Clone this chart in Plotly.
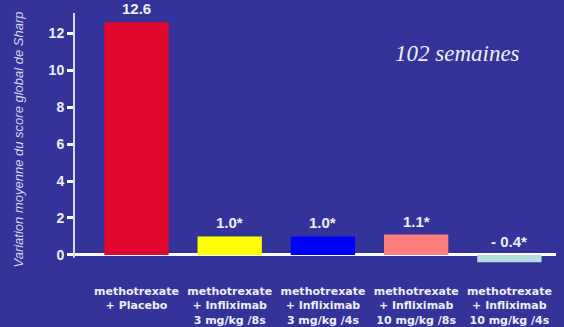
import plotly.graph_objects as go

# Treatment groups (x tick labels), mean change in total Sharp score at 102 weeks
categories = [
    "methotrexate<br>+ Placebo",
    "methotrexate<br>+ Infliximab<br>3 mg/kg /8s",
    "methotrexate<br>+ Infliximab<br>3 mg/kg /4s",
    "methotrexate<br>+ Infliximab<br>10 mg/kg /8s",
    "methotrexate<br>+ Infliximab<br>10 mg/kg /4s",
]
values = [12.6, 1.0, 1.0, 1.1, -0.4]
value_labels = ["12.6", "1.0*", "1.0*", "1.1*", "- 0.4*"]
bar_colors = ["#E0082E", "#FFFF00", "#0000FF", "#FF7F7F", "#B5DDE0"]
y_ticks = [0, 2, 4, 6, 8, 10, 12]

BG = "#333399"
LABEL = "#EEEEF6"
x_pos = list(range(len(categories)))

fig = go.Figure(
    go.Bar(
        x=x_pos,
        y=values,
        width=0.69,
        marker=dict(color=bar_colors, line=dict(width=0)),
        hoverinfo="skip",
        cliponaxis=False,
    )
)

# Value labels above each bar (above the zero line for negative bars)
for xi, v, lab in zip(x_pos, values, value_labels):
    fig.add_annotation(
        x=xi, y=max(v, 0), text=f"<b>{lab}</b>", showarrow=False,
        yanchor="bottom", yshift=3,
        font=dict(family="Arial, Liberation Sans", size=15, color=LABEL),
    )

fig.add_annotation(
    xref="paper", yref="paper", x=0.93, y=0.84, xanchor="right", yanchor="middle",
    text="<i>102 semaines</i>", showarrow=False,
    font=dict(family="Liberation Serif, Times New Roman, serif", size=23, color=LABEL),
)

# Vertical axis line
fig.add_shape(
    type="line", xref="paper", yref="y", x0=0, x1=0, y0=-0.15, y1=13.1,
    line=dict(color="#D8D8E8", width=2), layer="above",
)

fig.update_layout(
    width=564, height=327,
    margin=dict(l=74, r=8, t=13, b=61, autoexpand=False),
    paper_bgcolor=BG, plot_bgcolor=BG,
    showlegend=False,
    xaxis=dict(
        range=[-0.67, 4.5],
        tickmode="array", tickvals=x_pos, ticktext=[f"<b>{c}</b>" for c in categories],
        ticks="", showgrid=False, zeroline=False, showline=False,
        ticklabelstandoff=17, automargin=False,
        tickfont=dict(family="DejaVu Sans", size=11, color=LABEL),
    ),
    yaxis=dict(
        range=[-0.6, 13.1],
        tickmode="array", tickvals=y_ticks,
        ticktext=[f"<b>{t}</b>" for t in y_ticks],
        ticks="outside", ticklen=6, tickwidth=3, tickcolor="white",
        showgrid=False, showline=False, automargin=False,
        zeroline=True, zerolinecolor="white", zerolinewidth=3,
        tickfont=dict(family="Arial, Liberation Sans", size=14, color=LABEL),
        title=dict(
            text="<i>Variation moyenne du score global de Sharp</i>",
            font=dict(family="Arial, Liberation Sans", size=13, color="#D8D8EC"),
            standoff=22,
        ),
    ),
)

fig.write_html("out.html")
